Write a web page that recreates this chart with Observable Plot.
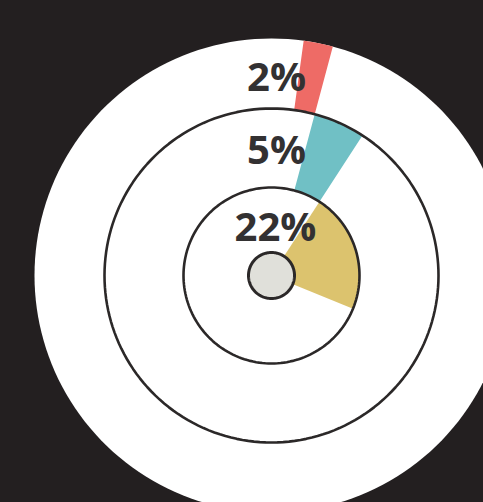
<!DOCTYPE html>
<html>
<head>
<meta charset="utf-8">
<script src="https://cdn.jsdelivr.net/npm/d3@7"></script>
<script src="https://cdn.jsdelivr.net/npm/@observablehq/plot@0.6"></script>
<style>
  html, body { margin: 0; padding: 0; background: #231f20; overflow: hidden; }
  #chart svg { display: block; }
</style>
</head>
<body>
<div id="chart"></div>
<script>
// Data (outermost ring first)
const labels = ["2%", "5%", "22%"];
const values = [2, 5, 22];
const colors = ["#ee6b66", "#70c0c5", "#dcc36e"];

// Layout
const W = 483, H = 502;
const cx = 271, cy = 275;
const ringInner = [167, 88, 0];
const ringOuter = [237, 167, 88];
const startDeg = 7.8;
const labelPos = [[5, -185], [5, -112], [4, -35]];

const toXY = (r, deg) => {
  const a = deg * Math.PI / 180;
  return [r * Math.sin(a), -r * Math.cos(a)];
};

// wedge polygons
const wedgePts = [];
let acc = startDeg;
values.forEach((v, i) => {
  const a0 = acc, a1 = acc + v * 3.6;
  acc = a1;
  const steps = 60;
  for (let k = 0; k <= steps; k++) {
    const [x, y] = toXY(ringOuter[i], a0 + (a1 - a0) * k / steps);
    wedgePts.push({ id: labels[i], x, y, color: colors[i] });
  }
  for (let k = steps; k >= 0; k--) {
    const [x, y] = toXY(ringInner[i], a0 + (a1 - a0) * k / steps);
    wedgePts.push({ id: labels[i], x, y, color: colors[i] });
  }
});

const circlePts = (r, id) => d3.range(0, 361, 2).map(d => {
  const [x, y] = toXY(r, d);
  return { id, x, y };
});
const ringLines = [...circlePts(88, "a"), ...circlePts(167, "b")];
const outerDisk = circlePts(237, "outer");
const hub = circlePts(23, "hub");

const textData = labels.map((l, i) => ({ label: l, x: labelPos[i][0], y: labelPos[i][1] }));

const plot = Plot.plot({
  width: W,
  height: H,
  margin: 0,
  style: { background: "#231f20", overflow: "hidden" },
  x: { domain: [-cx, W - cx], range: [0, W], axis: null },
  y: { domain: [-cy, H - cy], range: [0, H], axis: null },
  marks: [
    Plot.line(outerDisk, { x: "x", y: "y", z: "id", fill: "#ffffff", stroke: "none" }),
    Plot.line(wedgePts, { x: "x", y: "y", z: "id", fill: "color", stroke: "none" }),
    Plot.line(ringLines, { x: "x", y: "y", z: "id", stroke: "#2b2828", strokeWidth: 2.6, fill: "none" }),
    Plot.line(hub, { x: "x", y: "y", z: "id", fill: "#e0e0da", stroke: "#2b2828", strokeWidth: 3 }),
    Plot.text(textData, {
      x: "x", y: "y", text: "label",
      fontSize: 40, fontWeight: 700, fill: "#333132",
      fontFamily: "Open Sans", textAnchor: "middle", lineAnchor: "bottom"
    })
  ]
});
document.getElementById("chart").appendChild(plot);
</script>
</body>
</html>
